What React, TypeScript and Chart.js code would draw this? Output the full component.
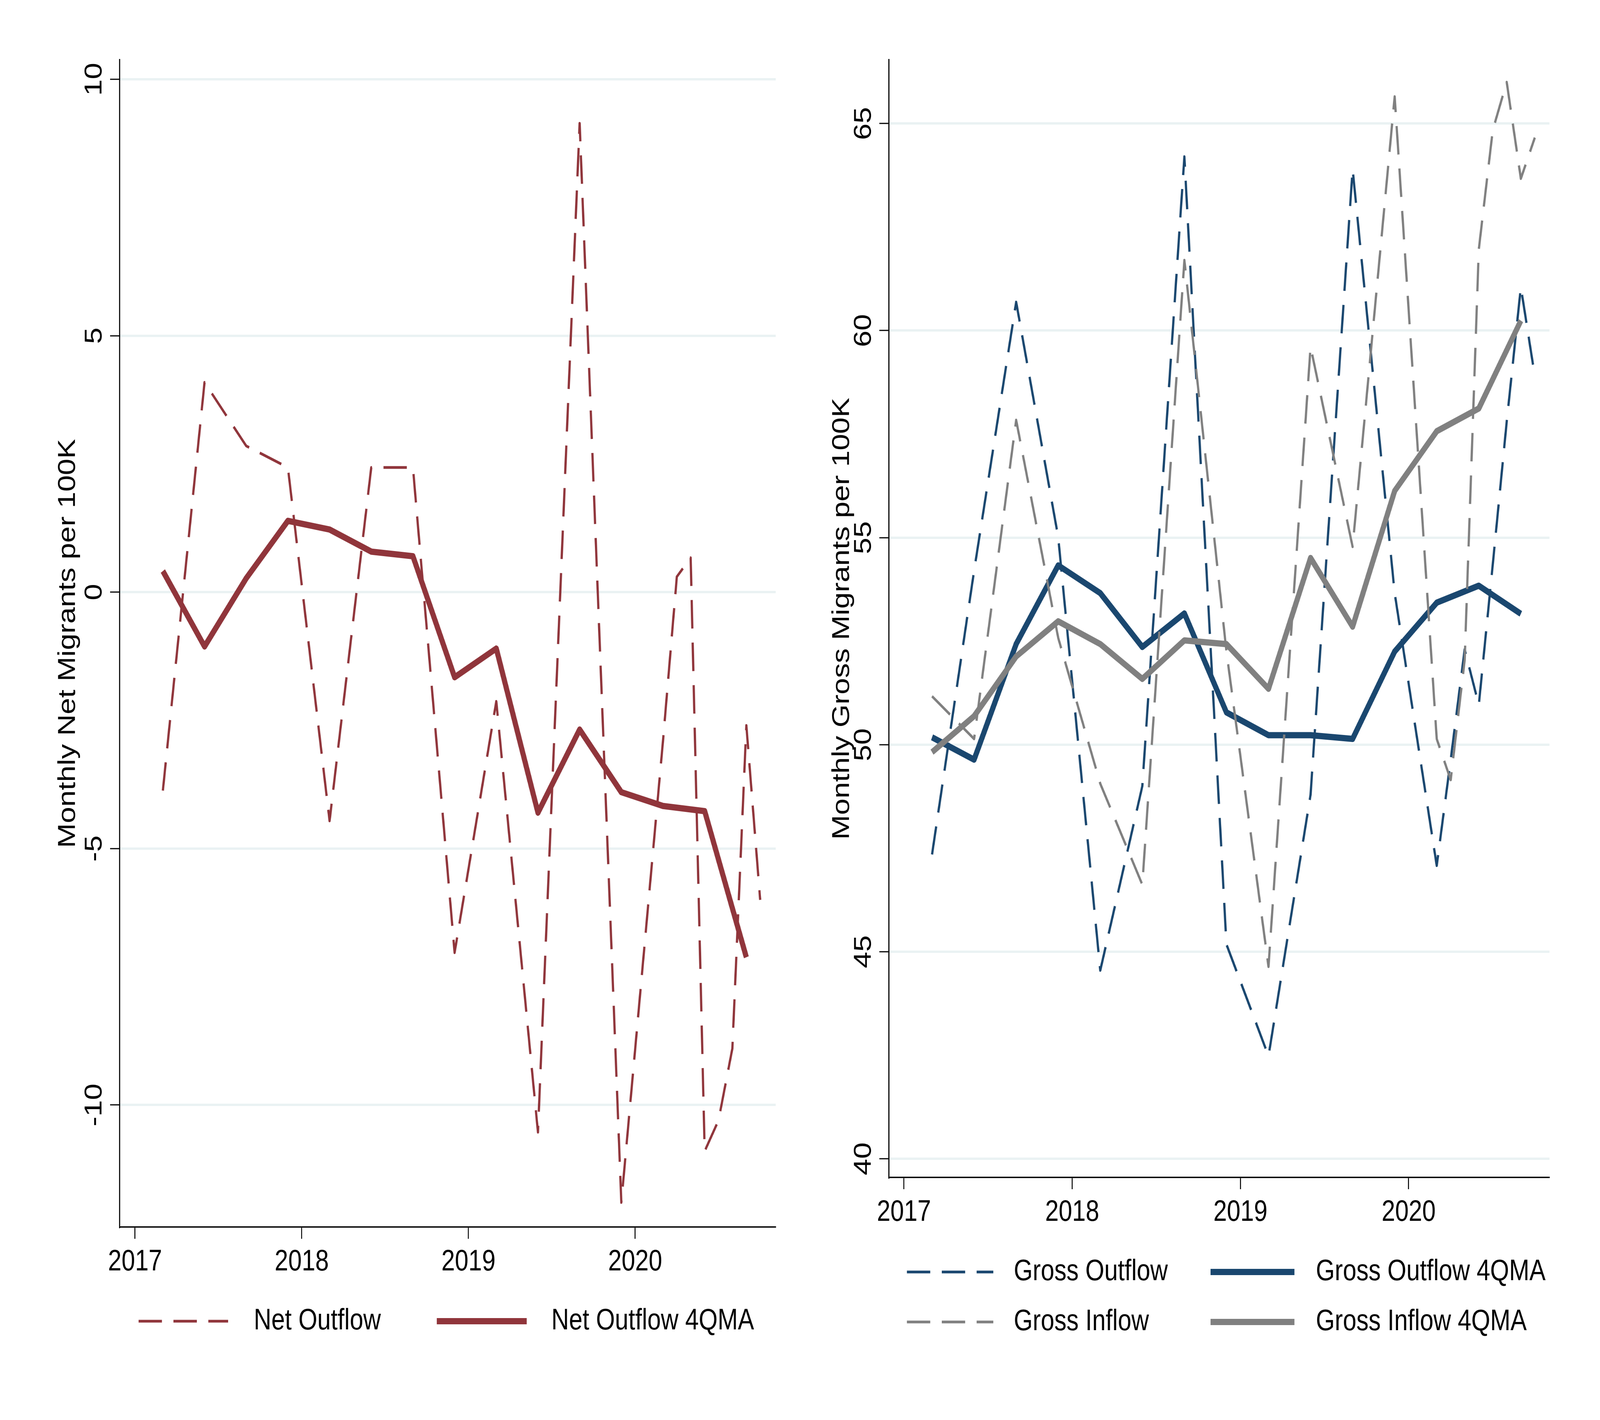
import React, { useEffect, useRef, useState } from "react";
import { Chart, registerables } from "chart.js";

Chart.register(...registerables);

// ---------- data ----------
const yearTicks = [2017, 2018, 2019, 2020];
const netTicks = [-10, -5, 0, 5, 10];
const grossTicks = [40, 45, 50, 55, 60, 65];

// observation dates (decimal years): quarterly through 2019, monthly in 2020
const flowDates = [
  2017.167, 2017.417, 2017.667, 2017.917,
  2018.167, 2018.417, 2018.667, 2018.917,
  2019.167, 2019.417, 2019.667, 2019.917,
  2020.167, 2020.25, 2020.333, 2020.417, 2020.5, 2020.583, 2020.667, 2020.75,
];
// four-quarter moving average dates
const maDates = [
  2017.167, 2017.417, 2017.667, 2017.917,
  2018.167, 2018.417, 2018.667, 2018.917,
  2019.167, 2019.417, 2019.667, 2019.917,
  2020.167, 2020.417, 2020.667,
];

const netOutflow = [
  -3.87, 4.09, 2.85, 2.43,
  -4.46, 2.43, 2.43, -7.03,
  -2.13, -10.53, 9.14, -11.9,
  -2.9, 0.3, 0.67, -10.9, -10.3, -8.9, -2.6, -6.0,
];
const netOutflow4QMA = [
  0.41, -1.06, 0.27, 1.39,
  1.22, 0.79, 0.7, -1.66,
  -1.1, -4.3, -2.68, -3.9,
  -4.17, -4.27, -7.12,
];

const grossOutflow = [
  47.35, 54.2, 60.69, 55.01,
  44.55, 49.0, 64.2, 45.18,
  42.48, 48.79, 63.9, 53.66,
  47.08, 49.64, 52.3, 50.96, 54.35, 57.8, 61.05, 58.9,
];
const grossInflow = [
  51.17, 50.14, 57.84, 52.58,
  49.06, 46.62, 61.7, 52.25,
  44.64, 59.61, 54.78, 65.65,
  50.14, 49.15, 52.04, 61.96, 64.84, 66.0, 63.67, 64.66,
];
const grossOutflow4QMA = [
  50.18, 49.64, 52.43, 54.33,
  53.66, 52.36, 53.17, 50.78,
  50.23, 50.23, 50.14, 52.25,
  53.43, 53.84, 53.16,
];
const grossInflow4QMA = [
  49.82, 50.69, 52.13, 52.98,
  52.43, 51.59, 52.52, 52.43,
  51.35, 54.51, 52.85, 56.13,
  57.57, 58.12, 60.24,
];

// ---------- styles ----------
const FONT = "'Liberation Sans', Arial, Helvetica, sans-serif";
const MAROON = "#90353B";
const NAVY = "#1A476F";
const GRAY = "#808080";
const GRID = "#EAF2F3";
const DASH = [73, 36];
const THIN = 7;
const THICK = 16;

// design size of one panel (the figure is two panels side by side, 5000 x 3636)
const W = 2500;
const H = 3636;

type LegendItem = {
  label: string;
  color: string;
  dash: number[];
  width: number;
  x0: number;
  x1: number;
  tx: number;
  y: number;
};

function makeLegendPlugin(items: LegendItem[]) {
  return {
    id: "stataLegend",
    afterDraw(chart: any) {
      const ctx = chart.ctx as CanvasRenderingContext2D;
      ctx.save();
      for (const it of items) {
        ctx.beginPath();
        ctx.setLineDash(it.dash);
        ctx.lineDashOffset = 0;
        ctx.lineWidth = it.width;
        ctx.strokeStyle = it.color;
        ctx.lineCap = "butt";
        ctx.moveTo(it.x0, it.y);
        ctx.lineTo(it.x1, it.y);
        ctx.stroke();
        ctx.setLineDash([]);
        ctx.fillStyle = "#000";
        ctx.font = `76px ${FONT}`;
        ctx.textBaseline = "middle";
        ctx.textAlign = "left";
        ctx.fillText(it.label, it.tx, it.y);
      }
      ctx.restore();
    },
  };
}

function pts(xs: number[], ys: number[]) {
  return xs.map((x, i) => ({ x, y: ys[i] }));
}

type PanelCfg = {
  datasets: any[];
  xMin: number;
  xMax: number;
  yMin: number;
  yMax: number;
  yTicks: number[];
  yTitle: string;
  yAxisWidth: number;
  xAxisHeight: number;
  padRight: number;
  titlePad: number;
  yTickPad: number;
  legend: LegendItem[];
};

function buildChart(canvas: HTMLCanvasElement, cfg: PanelCfg, ratio: number) {
  const tickFont = { family: FONT, size: 76 };
  return new Chart(canvas, {
    type: "line",
    data: { datasets: cfg.datasets },
    options: {
      animation: false,
      responsive: false,
      devicePixelRatio: ratio,
      layout: { padding: { left: 0, right: cfg.padRight, top: 153, bottom: 0 } },
      plugins: {
        legend: { display: false },
        tooltip: { enabled: false },
      },
      elements: { point: { radius: 0, hoverRadius: 0 } },
      scales: {
        x: {
          type: "linear",
          min: cfg.xMin,
          max: cfg.xMax,
          afterBuildTicks: (s: any) => {
            s.ticks = yearTicks.map((v) => ({ value: v }));
          },
          afterFit: (s: any) => {
            s.height = cfg.xAxisHeight;
          },
          grid: {
            drawOnChartArea: false,
            drawTicks: true,
            tickLength: 30,
            tickWidth: 3,
            tickColor: "#000",
          },
          border: { display: true, color: "#000", width: 3.5 },
          ticks: {
            font: tickFont,
            color: "#000",
            padding: 14,
            minRotation: 0,
            maxRotation: 0,
            autoSkip: false,
            callback: (v: any) => String(v),
          },
        },
        y: {
          type: "linear",
          min: cfg.yMin,
          max: cfg.yMax,
          afterBuildTicks: (s: any) => {
            s.ticks = cfg.yTicks.map((v) => ({ value: v }));
          },
          afterFit: (s: any) => {
            s.width = cfg.yAxisWidth;
          },
          grid: {
            color: GRID,
            lineWidth: 6,
            drawTicks: true,
            tickLength: 30,
            tickWidth: 3,
            tickColor: "#000",
          },
          border: { display: true, color: "#000", width: 3.5 },
          ticks: {
            font: tickFont,
            color: "#000",
            padding: cfg.yTickPad,
            minRotation: 90,
            maxRotation: 90,
            crossAlign: "center",
            autoSkip: false,
            callback: (v: any) => String(v),
          },
          title: {
            display: true,
            text: cfg.yTitle,
            font: { family: FONT, size: 76 },
            color: "#000",
            padding: { top: cfg.titlePad, bottom: 0 },
          },
        },
      },
    } as any,
    plugins: [makeLegendPlugin(cfg.legend)],
  });
}

function lineDs(label: string, xs: number[], ys: number[], color: string, dashed: boolean, order: number) {
  return {
    label,
    data: pts(xs, ys),
    borderColor: color,
    backgroundColor: color,
    borderWidth: dashed ? THIN : THICK,
    borderDash: dashed ? DASH : [],
    borderJoinStyle: "round",
    borderCapStyle: "butt",
    pointRadius: 0,
    pointHoverRadius: 0,
    tension: 0,
    fill: false,
    order,
  };
}

// fit the 5000 x 3636 figure to the actual viewport
function viewScale() {
  if (typeof window === "undefined") return { sx: 1, sy: 1 };
  const sx = window.innerWidth / (2 * W);
  const sy = window.innerHeight / H;
  return { sx: sx > 0 ? sx : 1, sy: sy > 0 ? sy : 1 };
}

export default function App() {
  const leftRef = useRef<HTMLCanvasElement>(null);
  const rightRef = useRef<HTMLCanvasElement>(null);
  const [scale] = useState(viewScale());

  useEffect(() => {
    const ratio = Math.max(scale.sx, scale.sy) * (window.devicePixelRatio || 1);
    const charts: Chart[] = [];
    if (leftRef.current) {
      charts.push(
        buildChart(
          leftRef.current,
          {
            datasets: [
              lineDs("Net Outflow", flowDates, netOutflow, MAROON, true, 2),
              lineDs("Net Outflow 4QMA", maDates, netOutflow4QMA, MAROON, false, 1),
            ],
            xMin: 2016.908,
            xMax: 2020.843,
            yMin: -12.38,
            yMax: 10.38,
            yTicks: netTicks,
            yTitle: "Monthly Net Migrants per 100K",
            yAxisWidth: 374,
            xAxisHeight: H - 3142,
            padRight: W - 2424,
            titlePad: 167,
            yTickPad: -7,
            legend: [
              { label: "Net Outflow", color: MAROON, dash: DASH, width: THIN, x0: 433, x1: 713, tx: 793, y: 3383 },
              { label: "Net Outflow 4QMA", color: MAROON, dash: [], width: THICK, x0: 1365, x1: 1646, tx: 1723, y: 3383 },
            ],
          },
          ratio
        )
      );
    }
    if (rightRef.current) {
      charts.push(
        buildChart(
          rightRef.current,
          {
            datasets: [
              lineDs("Gross Outflow", flowDates, grossOutflow, NAVY, true, 4),
              lineDs("Gross Outflow 4QMA", maDates, grossOutflow4QMA, NAVY, false, 3),
              lineDs("Gross Inflow", flowDates, grossInflow, GRAY, true, 2),
              lineDs("Gross Inflow 4QMA", maDates, grossInflow4QMA, GRAY, false, 1),
            ],
            xMin: 2016.911,
            xMax: 2020.837,
            yMin: 39.55,
            yMax: 66.54,
            yTicks: grossTicks,
            yTitle: "Monthly Gross Migrants per 100K",
            yAxisWidth: 278,
            xAxisHeight: H - 3015,
            padRight: W - 2342,
            titlePad: 86,
            yTickPad: 6,
            legend: [
              { label: "Gross Outflow", color: NAVY, dash: DASH, width: THIN, x0: 334, x1: 604, tx: 668, y: 3257 },
              { label: "Gross Outflow 4QMA", color: NAVY, dash: [], width: THICK, x0: 1283, x1: 1545, tx: 1612, y: 3257 },
              { label: "Gross Inflow", color: GRAY, dash: DASH, width: THIN, x0: 334, x1: 604, tx: 668, y: 3385 },
              { label: "Gross Inflow 4QMA", color: GRAY, dash: [], width: THICK, x0: 1283, x1: 1545, tx: 1612, y: 3385 },
            ],
          },
          ratio
        )
      );
    }
    return () => {
      charts.forEach((c) => c.destroy());
    };
  }, [scale]);

  const canvasStyle = (left: number): React.CSSProperties => ({
    position: "absolute",
    left: left * scale.sx,
    top: 0,
    width: W * scale.sx,
    height: H * scale.sy,
    display: "block",
  });

  return (
    <div
      style={{
        position: "absolute",
        left: 0,
        top: 0,
        width: 2 * W * scale.sx,
        height: H * scale.sy,
        background: "#fff",
        overflow: "hidden",
      }}
    >
      <canvas ref={leftRef} width={W} height={H} style={canvasStyle(0)} />
      <canvas ref={rightRef} width={W} height={H} style={canvasStyle(W)} />
    </div>
  );
}
